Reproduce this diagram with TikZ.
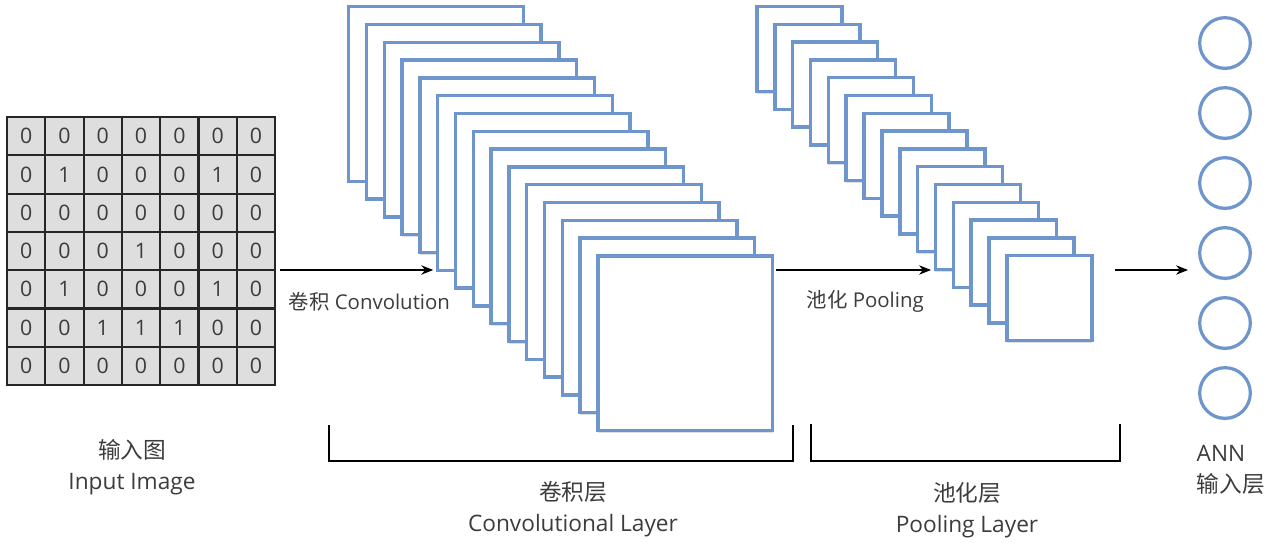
\documentclass[tikz,border=0pt]{standalone}
\usepackage{fontspec}
\setmainfont{Open Sans}
\newfontfamily\cjk{Noto Sans CJK SC}
\usetikzlibrary{arrows.meta,positioning,calc,shadows}
\definecolor{mapblue}{RGB}{110,150,205}
\definecolor{cellgray}{RGB}{222,222,222}
\definecolor{txtgray}{RGB}{60,60,60}

\begin{document}
\begin{tikzpicture}[x=0.75pt,y=-0.75pt,>={Stealth[length=9pt,width=7pt]},
 soft/.style={drop shadow={shadow xshift=0pt,shadow yshift=-1.5pt,opacity=0.25,fill=black!50}},
 cell/.style={draw=black!85,line width=1.5pt,fill=cellgray,minimum size=28.7pt,inner sep=0pt,
   font=\fontsize{16}{16}\selectfont,text=txtgray},
 fmap/.style={soft,draw=mapblue,line width=2.6pt,fill=white,inner sep=0pt},
 conv/.style={fmap,minimum size=131pt},
 pool/.style={fmap,minimum size=63.8pt},
 neuron/.style={soft,circle,draw=mapblue,line width=2.4pt,fill=white,minimum size=38pt,inner sep=0pt},
 lab/.style={font=\fontsize{17}{23}\selectfont,text=txtgray,align=center},
 arrlab/.style={font=\fontsize{15.3}{18}\selectfont,text=txtgray,anchor=west},
 flow/.style={->,line width=1.2pt},
 brace/.style={line width=1.4pt}]
\useasboundingbox (0,0) rectangle (1272,560);

% input image
\foreach \row [count=\r from 0] in {{0,0,0,0,0,0,0},{0,1,0,0,0,1,0},{0,0,0,0,0,0,0},
   {0,0,0,1,0,0,0},{0,1,0,0,0,1,0},{0,0,1,1,1,0,0},{0,0,0,0,0,0,0}}
  \foreach \v [count=\c from 0] in \row
    \node[cell] (px\r\c) at (26.15+38.3*\c,136.15+38.3*\r) {\v};

% feature maps
\foreach \i in {0,...,14}
  \node[conv] (cv\i) at (436+17.8*\i,94+17.8*\i) {};
\foreach \i in {0,...,14}
  \node[pool] (pl\i) at (799.5+17.85*\i,49+17.8*\i) {};

% ANN input units
\foreach \i in {1,...,6}
  \node[neuron] (u\i) at (1225,43+70*\i-70) {};

% arrows
\coordinate (in) at (280,270);
\draw[flow,shorten >=2pt] (in) -- (in -| cv5.west);
\draw[flow,shorten <=1.5pt,shorten >=2pt] (cv14.east |- in) -- (pl10.west |- in);
\draw[flow,shorten <=16pt,shorten >=7.5pt] (pl14.east |- in) -- (u4.west |- in);
\node[arrlab] (convlab) at (284,302) {{\cjk 卷积} Convolution};
\node[arrlab] (poollab) at (802,301) {{\cjk 池化} Pooling};

% brackets
\draw[brace] (329,425) |- (793,461) -- (793,425);
\draw[brace] (811,424) |- (1120,461) -- (1120,424);

% captions
\node[lab] (inlab) at (132,467) {{\cjk 输入图}\\Input Image};
\node[lab] (cvlab) at (573,509) {{\cjk 卷积层}\\Convolutional Layer};
\node[lab] (pllab) at (967,510) {{\cjk 池化层}\\Pooling Layer};
\node[lab,align=left,anchor=west] (annlab) at (1192,470) {ANN\\{\cjk 输入层}};
\end{tikzpicture}
\end{document}
